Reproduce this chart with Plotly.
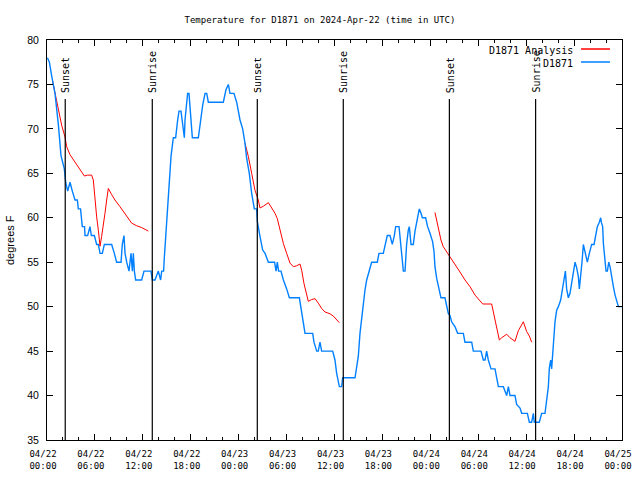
import pandas as pd
import plotly.graph_objects as go

# ---------------- data (hours after 2024-04-22 00:00 UTC, degrees F) ----------------
obs_hours = [0.05, 0.3, 0.58, 1.0, 1.42, 1.75, 2.17, 2.34, 2.59, 2.88, 3.17, 3.51, 3.8, 3.92,
             4.2, 4.3, 4.42, 4.7, 4.76, 5.09, 5.3, 5.38, 5.55, 5.93, 6.22, 6.43, 6.64, 6.93,
             7.18, 8.1, 8.43, 8.72, 9.27, 9.43, 9.64, 9.77, 9.98, 10.27, 10.52, 10.69, 10.81,
             10.94, 11.1, 11.85, 12.15, 13.02, 13.19, 13.52, 13.94, 14.23, 14.36, 14.6, 14.69,
             14.86, 15.19, 15.53, 15.82, 16.11, 16.36, 16.53, 16.78, 16.95, 17.2, 17.28, 17.61,
             17.78, 18.03, 18.2, 18.95, 19.16, 19.5, 19.79, 20.0, 20.2, 22.08, 22.41, 22.71,
             22.91, 23.41, 23.75, 23.96, 24.17, 24.5, 24.79, 25.0, 25.33, 25.63, 25.96, 26.25,
             26.34, 26.67, 27.0, 27.3, 27.72, 28.5, 28.68, 28.84, 29.0, 29.3, 29.6, 30.01,
             30.35, 31.6, 31.89, 32.31, 33.27, 33.43, 33.77, 33.97, 34.18, 34.39, 35.77, 36.06,
             36.27, 36.48, 36.61, 36.9, 37.02, 38.57, 38.78, 38.98, 39.19, 39.4, 39.61, 39.82,
             40.03, 40.24, 40.45, 40.65, 41.36, 41.57, 42.11, 42.32, 42.61, 42.95, 43.24, 43.49,
             43.66, 44.08, 44.41, 44.62, 44.83, 45.03, 45.24, 45.37, 45.58, 45.87, 46.08, 46.29,
             46.49, 46.62, 46.83, 47.0, 47.41, 47.66, 47.96, 48.29, 48.46, 48.58, 48.79, 49.08,
             49.33, 49.83, 50.04, 50.25, 50.46, 50.67, 50.88, 51.09, 51.42, 52.13, 52.34, 53.18,
             53.38, 54.34, 54.64, 54.85, 55.05, 55.26, 55.6, 56.1, 56.31, 56.52, 57.14, 57.56,
             57.77, 57.98, 58.6, 58.81, 59.23, 59.44, 60.15, 60.4, 60.69, 60.9, 61.02, 61.65,
             61.94, 62.36, 62.57, 62.78, 62.9, 63.07, 63.19, 63.32, 63.49, 63.61, 63.82, 64.03,
             64.32, 64.57, 64.74, 64.91, 65.07, 65.28, 65.49, 65.7, 65.91, 66.12, 66.32, 66.53,
             66.66, 66.83, 66.99, 67.16, 67.37, 67.66, 67.91, 68.2, 68.5, 68.66, 68.91, 69.16,
             69.33, 69.41, 69.58, 69.67, 69.83, 70.0, 70.17, 70.34, 70.5, 70.71, 70.92, 71.13,
             71.34, 71.55, 72.0]
obs_temp = [78, 77.5, 76, 74, 70.5, 67, 65.5, 64, 63, 64, 63, 62, 62, 61,
            61, 60, 59, 59, 58, 58, 59, 59, 58, 58, 57, 57, 56, 56,
            57, 57, 56, 55, 55, 57, 58, 56, 55, 54, 56, 54, 56,
            54, 53, 53, 54, 54, 53, 53, 54, 53, 54, 54, 55.5,
            58, 62.4, 66.9, 69, 69, 71, 72, 72, 71, 69, 71, 74,
            74, 71, 69, 69, 70.6, 72.7, 74, 74, 73, 73, 74.4, 75,
            74, 74, 73, 72, 71, 70, 68.4, 66.7, 65, 62.75, 61, 61,
            59.6, 57.9, 56.4, 56, 55, 55, 54, 55, 54, 54, 53, 52,
            51, 51, 49.25, 47, 47, 46, 45, 45, 46, 45, 45, 44,
            42.5, 41.5, 41, 41, 42, 42, 43, 44.4, 47, 48.9, 50.4, 51.9,
            53, 53.75, 54.5, 55, 55, 56, 56, 57, 58, 58, 57, 58,
            59, 59, 56.4, 54, 54, 57, 58.6, 59, 57, 57, 58.5, 59.6,
            60.5, 61, 60.5, 60, 60, 59, 58.25, 57.3, 56.2, 54.5, 53.2, 52,
            51, 51, 50.2, 49.25, 49, 48.3, 48, 47.75, 47, 47, 46, 46,
            45, 45, 44, 44, 45, 44, 43, 43, 42, 41, 41, 40,
            41, 40, 40, 39, 38.6, 38, 38, 37, 37, 38, 37, 37,
            38, 38, 39.5, 41, 43.1, 44, 43, 45.1, 46.6, 48.3, 49.6, 50,
            50.75, 52.25, 53.4, 54, 52, 51, 51.5, 52.6, 54.1, 55, 54.4, 53.4,
            52, 53.4, 55, 57, 56, 55, 56, 57, 57, 58, 59, 59.5,
            60, 59.5, 59, 57.1, 55.25, 54, 54, 55, 54.5, 53.2, 52.25, 51.3,
            50.56, 50, 50]

anal1_hours = [0.67, 1.0, 1.42, 1.84, 2.25, 2.46, 2.88, 3.51, 4.13, 4.68, 5.09, 5.59, 5.8,
               6.01, 6.22, 6.43, 6.64, 6.84, 7.05, 7.26, 7.47, 7.68, 8.1, 8.51, 9.14, 9.77,
               10.19, 10.6, 11.23, 11.85, 12.69]
anal1_temp = [75.5, 74, 72.1, 70.4, 69.1, 68, 67.1, 66.3, 65.4, 64.7, 64.8, 64.8, 64.25,
              62, 60.1, 58.6, 56.8, 57.9, 59, 60.5, 62, 63.3, 62.6, 62, 61.25, 60.5,
              59.9, 59.4, 59.1, 58.9, 58.5]
anal2_hours = [24.79, 25.21, 25.63, 26.04, 26.46, 26.67, 27.09, 27.72, 28.14, 28.55, 28.84,
               29.18, 29.6, 30.01, 30.43, 30.85, 31.26, 31.68, 31.89, 32.18, 32.52, 32.72,
               33.14, 33.56, 33.97, 34.39, 34.81, 35.43, 35.85, 36.27, 36.6]
anal2_temp = [68.4, 66.9, 65, 63.1, 62, 61.1, 61.3, 61.7, 61.1, 60.5, 59.9,
              58.6, 57.1, 56, 54.9, 54.5, 54.6, 54.8, 54.1, 52.6, 51.1, 50.6,
              50.8, 50.9, 50.4, 49.8, 49.4, 49.2, 48.95, 48.5, 48.2]
anal3_hours = [48.58, 48.79, 49.08, 49.33, 49.62, 50.04, 50.46, 51.09, 51.71, 52.34, 52.97,
               53.6, 54.22, 54.56, 55.68, 55.89, 56.1, 56.31, 56.64, 56.93, 57.56, 57.98,
               58.6, 59.02, 59.65, 60.06, 60.4, 60.69]
anal3_temp = [60.6, 59.75, 58.6, 57.5, 56.75, 56.2, 55.6, 54.7, 53.9, 53, 52.25,
              51.3, 50.7, 50.3, 50.3, 49.4, 48.5, 47.4, 46.25, 46.5, 46.9, 46.5,
              46.1, 47.3, 48.3, 47.2, 46.7, 46]

event_times = ["2024-04-22 02:17", "2024-04-22 13:11", "2024-04-23 02:20",
               "2024-04-23 13:06", "2024-04-24 02:23", "2024-04-24 13:11"]
event_labels = ["Sunset", "Sunrise", "Sunset", "Sunrise", "Sunset", "Sunrise"]

y_ticks = [35, 40, 45, 50, 55, 60, 65, 70, 75, 80]
title_text = "Temperature for D1871 on 2024-Apr-22 (time in UTC)"
series_names = ["D1871 Analysis", "D1871"]
series_colors = ["#ff0000", "#0080ff"]

# ---------------- build ----------------
base = pd.Timestamp("2024-04-22 00:00")


def to_time(hours):
    return [base + pd.Timedelta(hours=h) for h in hours]


anal_x, anal_y = [], []
for hh, tt in [(anal1_hours, anal1_temp), (anal2_hours, anal2_temp), (anal3_hours, anal3_temp)]:
    anal_x += to_time(hh) + [None]
    anal_y += list(tt) + [None]

MONO = "DejaVu Sans Mono"
SANS = "Liberation Sans"

fig = go.Figure()
fig.add_trace(go.Scatter(x=anal_x, y=anal_y, mode="lines", name=series_names[0],
                         line=dict(color=series_colors[0], width=1), connectgaps=False,
                         showlegend=False))
fig.add_trace(go.Scatter(x=to_time(obs_hours), y=obs_temp, mode="lines", name=series_names[1],
                         line=dict(color=series_colors[1], width=1.4), showlegend=False))

line_top = 0.8525
for t, lab in zip(event_times, event_labels):
    fig.add_shape(type="line", xref="x", yref="paper", x0=t, x1=t, y0=0, y1=line_top,
                  line=dict(color="black", width=1.2))
    fig.add_annotation(x=t, xref="x", y=0.863, yref="paper", text=lab, textangle=-90,
                       showarrow=False, xanchor="center", yanchor="bottom", xshift=1,
                       font=dict(family=MONO, size=10, color="black"))

# manual legend (text left, sample right, as in gnuplot)
leg_y = [0.975, 0.9425]
for name, col, yy in zip(series_names, series_colors, leg_y):
    fig.add_annotation(x=1, xref="paper", y=yy, yref="paper", text=name, showarrow=False,
                       xanchor="right", yanchor="middle", xshift=-47,
                       font=dict(family=MONO, size=10, color="black"))
    fig.add_shape(type="line", xref="paper", yref="paper", x0=0.9287, x1=0.9791,
                  y0=yy + 0.0025, y1=yy + 0.0025, line=dict(color=col, width=1.5))

fig.add_annotation(x=0, xref="paper", y=0.5, yref="paper", text="degrees F", textangle=-90,
                   showarrow=False, xanchor="center", yanchor="middle", xshift=-37,
                   font=dict(family=SANS, size=11, color="black"))

fig.update_layout(
    width=640, height=480,
    margin=dict(l=47, r=18, t=40, b=40, autoexpand=False),
    paper_bgcolor="white", plot_bgcolor="white",
    title=dict(text=title_text, x=0.5, xref="container", xanchor="center", y=1 - 20 / 480,
               yanchor="middle", font=dict(family=MONO, size=9, color="black")),
    showlegend=False,
)
fig.update_xaxes(
    type="date", range=["2024-04-22 00:00", "2024-04-25 00:00"],
    dtick=6 * 3600 * 1000, tick0="2024-04-22 00:00", tickformat="%m/%d<br>%H:%M",
    ticks="inside", ticklen=6, tickcolor="black", tickwidth=1, automargin=False,
    ticklabelstandoff=5, ticklabelshift=-4,
    minor=dict(dtick=2 * 3600 * 1000, tick0="2024-04-22 00:00", ticks="inside",
               ticklen=3, tickcolor="black", showgrid=False),
    showline=True, linecolor="black", linewidth=1, mirror="ticks", showgrid=False,
    zeroline=False, tickfont=dict(family=MONO, size=9, color="black"),
)
fig.update_yaxes(
    range=[35, 80], tickvals=y_ticks, ticks="inside", ticklen=6, tickcolor="black",
    automargin=False, ticklabelstandoff=5,
    showline=True, linecolor="black", linewidth=1, mirror="ticks", showgrid=False,
    zeroline=False, tickfont=dict(family=SANS, size=10.5, color="black"),
)

fig.write_html("out.html", config={"displayModeBar": False},
               post_script="document.body.style.margin='0';document.body.style.padding='0';")
